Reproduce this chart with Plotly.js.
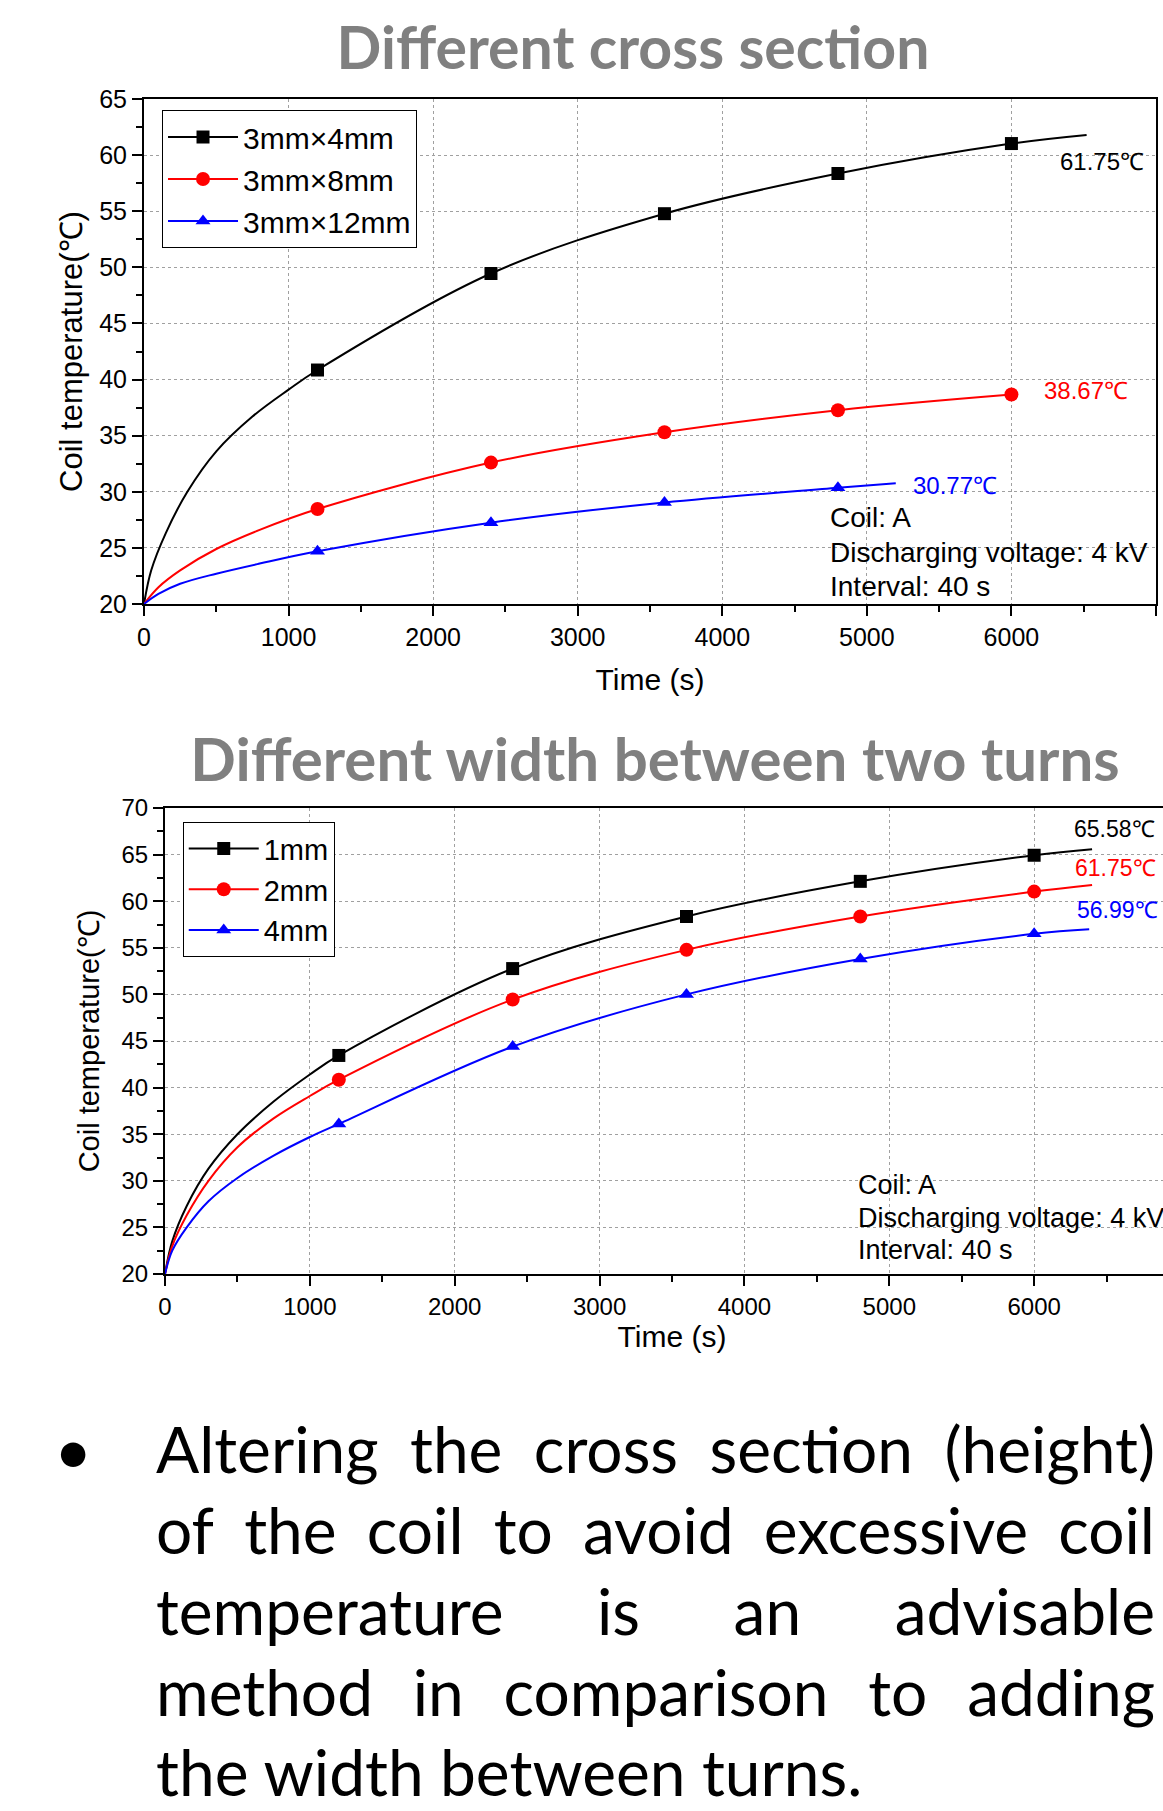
<!DOCTYPE html>
<html>
<head>
<meta charset="utf-8">
<script src="https://cdn.plot.ly/plotly-3.0.1.min.js"></script>
<style>
  html, body { margin:0; padding:0; background:#fff; width:1163px; height:1811px; overflow:hidden; position:relative; }
  #chart1 { position:absolute; left:0; top:0; width:1163px; height:700px; }
  #chart2 { position:absolute; left:0; top:700px; width:1200px; height:700px; }
  #bullet { position:absolute; left:54px; top:1407.7px; font-family:Lato, "Open Sans", sans-serif; font-size:66px; line-height:81px; color:#000; }
  #note { position:absolute; left:156px; top:1407.7px; width:999px; font-family:Lato, "Open Sans", sans-serif; font-size:64px; line-height:81px; color:#000; }
  #note .j { display:flex; justify-content:space-between; white-space:nowrap; }
  #note .l { white-space:nowrap; line-height:52px; padding-top:14.5px; }
</style>
</head>
<body>
<div id="chart1"></div>
<div id="chart2"></div>
<div id="bullet">•</div>
<div id="note"></div>
<script>
// ---------------- DATA ----------------
// Chart 1: different cross section (time in s, temperature in °C)
const crossNames = ['3mm×4mm', '3mm×8mm', '3mm×12mm'];
const cs4Time  = [0, 50, 150, 300, 500, 750, 1000, 1200, 2400, 3600, 4800, 6000, 6520];
const cs4Temp  = [20, 23.0, 26.3, 30.0, 33.6, 36.7, 39.1, 40.85, 49.45, 54.78, 58.36, 61.03, 61.8];
const cs4MarkTime = [1200, 2400, 3600, 4800, 6000];
const cs4MarkTemp = [40.85, 49.45, 54.78, 58.36, 61.03];
const cs8Time  = [0, 100, 250, 500, 800, 1200, 2400, 3600, 4800, 6000];
const cs8Temp  = [20, 21.5, 23.0, 24.9, 26.6, 28.46, 32.6, 35.3, 37.27, 38.67];
const cs8MarkTime = [1200, 2400, 3600, 4800, 6000];
const cs8MarkTemp = [28.46, 32.6, 35.3, 37.27, 38.67];
const cs12Time = [0, 100, 250, 500, 800, 1200, 2400, 3600, 4800, 5200];
const cs12Temp = [20, 20.9, 21.8, 22.7, 23.6, 24.7, 27.25, 29.05, 30.35, 30.77];
const cs12MarkTime = [1200, 2400, 3600, 4800];
const cs12MarkTemp = [24.7, 27.25, 29.05, 30.35];
const crossEndLabels = ['61.75℃', '38.67℃', '30.77℃'];

// Chart 2: different width between two turns
const widthNames = ['1mm', '2mm', '4mm'];
const w1Time = [0, 50, 150, 300, 500, 750, 1000, 1200, 2400, 3600, 4800, 6000, 6400];
const w1Temp = [20, 23.5, 27.3, 31.3, 35.0, 38.5, 41.4, 43.45, 52.77, 58.36, 62.13, 64.93, 65.58];
const w2Time = [0, 50, 150, 300, 500, 750, 1000, 1200, 2400, 3600, 4800, 6000, 6400];
const w2Temp = [20, 23.0, 26.3, 30.0, 33.6, 36.7, 39.1, 40.85, 49.45, 54.78, 58.36, 61.03, 61.75];
const w4Time = [0, 50, 150, 300, 500, 750, 1000, 1200, 2400, 3600, 4800, 6000, 6380];
const w4Temp = [20, 22.5, 25.0, 27.8, 30.3, 32.7, 34.7, 36.1, 44.4, 50.0, 53.8, 56.5, 56.99];
const wMarkTime = [1200, 2400, 3600, 4800, 6000];
const w1MarkTemp = [43.45, 52.77, 58.36, 62.13, 64.93];
const w2MarkTemp = [40.85, 49.45, 54.78, 58.36, 61.03];
const w4MarkTemp = [36.1, 44.4, 50.0, 53.8, 56.5];
const widthEndLabels = ['65.58℃', '61.75℃', '56.99℃'];

const conditionLines = ['Coil: A', 'Discharging voltage: 4 kV', 'Interval: 40 s'];
const noteLines = [
  'Altering the cross section (height)',
  'of the coil to avoid excessive coil',
  'temperature is an advisable',
  'method in comparison to adding',
  'the width between turns.'
];

// ---------------- STYLE ----------------
const colors = ['#000000', '#ff0000', '#0000ff'];
const symbols = ['square', 'circle', 'triangle-up'];
const msize = [13, 14, 13];
const ARIAL = '"Liberation Sans", Arial, sans-serif';

function seriesTraces(names, curves, marks) {
  const out = [];
  names.forEach((n, i) => {
    out.push({ x: curves[i][0], y: curves[i][1], mode: 'lines', type: 'scatter',
      line: { color: colors[i], width: 2, shape: 'spline', smoothing: 1 },
      showlegend: false, hoverinfo: 'skip' });
    out.push({ x: marks[i][0], y: marks[i][1], mode: 'markers', type: 'scatter',
      marker: { color: colors[i], symbol: symbols[i], size: msize[i] },
      showlegend: false });
  });
  names.forEach((n, i) => {
    out.push({ x: [null], y: [null], name: n, mode: 'lines+markers', type: 'scatter',
      line: { color: colors[i], width: 2 },
      marker: { color: colors[i], symbol: symbols[i], size: msize[i] } });
  });
  return out;
}

function axisX(tickSize, standoff) {
  return {
    range: [0, 7000], dtick: 1000, tick0: 0, ticks: 'outside', ticklen: 10, tickwidth: 2, tickcolor: '#000',
    showline: true, linewidth: 2, linecolor: '#000', mirror: true, zeroline: false,
    showgrid: true, gridcolor: '#a0a0a0', gridwidth: 1, griddash: '3px,3px',
    minor: { dtick: 500, ticks: 'outside', ticklen: 6, tickwidth: 2, tickcolor: '#000', showgrid: false },
    tickfont: { family: ARIAL, size: tickSize, color: '#000' },
    title: { text: 'Time (s)', font: { family: ARIAL, size: 30, color: '#000' }, standoff: standoff },
    fixedrange: true
  };
}
function axisY(range, tickSize, titleSize, standoff) {
  return {
    range: range, dtick: 5, tick0: 0, ticks: 'outside', ticklen: 10, tickwidth: 2, tickcolor: '#000',
    showline: true, linewidth: 2, linecolor: '#000', mirror: true, zeroline: false,
    showgrid: true, gridcolor: '#a0a0a0', gridwidth: 1, griddash: '3px,3px',
    minor: { dtick: 2.5, ticks: 'outside', ticklen: 6, tickwidth: 2, tickcolor: '#000', showgrid: false },
    tickfont: { family: ARIAL, size: tickSize, color: '#000' },
    title: { text: 'Coil temperature(℃)', font: { family: ARIAL, size: titleSize, color: '#000' }, standoff: standoff },
    fixedrange: true
  };
}

// ---------------- CHART 1 ----------------
const traces1 = seriesTraces(crossNames,
  [[cs4Time, cs4Temp], [cs8Time, cs8Temp], [cs12Time, cs12Temp]],
  [[cs4MarkTime, cs4MarkTemp], [cs8MarkTime, cs8MarkTemp], [cs12MarkTime, cs12MarkTemp]]);

const endPos1 = [[6322, 59.4], [6211, 39.03], [5305, 30.6]];
const condPos1 = [[4731, 27.75], [4731, 24.63], [4731, 21.6]];
const ann1 = [];
crossEndLabels.forEach((t, i) => ann1.push({ x: endPos1[i][0], y: endPos1[i][1], xref: 'x', yref: 'y', text: t,
  showarrow: false, xanchor: 'left', yanchor: 'middle', font: { family: ARIAL, size: 24, color: colors[i] } }));
conditionLines.forEach((t, i) => ann1.push({ x: condPos1[i][0], y: condPos1[i][1], xref: 'x', yref: 'y', text: t,
  showarrow: false, xanchor: 'left', yanchor: 'middle', font: { family: ARIAL, size: 28, color: '#000' } }));

const layout1 = {
  width: 1163, height: 700,
  margin: { l: 144, r: 7, t: 99, b: 96, pad: 0 },
  paper_bgcolor: '#fff', plot_bgcolor: '#fff',
  title: { text: 'Different cross section', xref: 'container', yref: 'container', x: 633 / 1163, y: 1 - 48 / 700,
    xanchor: 'center', yanchor: 'middle', font: { family: 'Lato, "Open Sans", sans-serif', size: 59, color: '#808080', weight: 'bold' } },
  xaxis: axisX(25, 19),
  yaxis: axisY([20, 65], 25, 31, 7),
  showlegend: true,
  legend: { x: 0.0178, y: 0.9782, xanchor: 'left', yanchor: 'top', bgcolor: '#fff', bordercolor: '#000', borderwidth: 1,
    font: { family: ARIAL, size: 30, color: '#000' }, tracegroupgap: 0, itemwidth: 70 },
  annotations: ann1
};

// ---------------- CHART 2 ----------------
const traces2 = seriesTraces(widthNames,
  [[w1Time, w1Temp], [w2Time, w2Temp], [w4Time, w4Temp]],
  [[wMarkTime, w1MarkTemp], [wMarkTime, w2MarkTemp], [wMarkTime, w4MarkTemp]]);

const endPos2 = [[6260, 67.72], [6267, 63.6], [6284, 59.03]];
const condPos2 = [[4771, 29.6], [4771, 26.06], [4771, 22.57]];
const ann2 = [];
widthEndLabels.forEach((t, i) => ann2.push({ x: endPos2[i][0], y: endPos2[i][1], xref: 'x', yref: 'y', text: t,
  showarrow: false, xanchor: 'left', yanchor: 'middle', font: { family: ARIAL, size: 23, color: colors[i] } }));
conditionLines.forEach((t, i) => ann2.push({ x: condPos2[i][0], y: condPos2[i][1], xref: 'x', yref: 'y', text: t,
  showarrow: false, xanchor: 'left', yanchor: 'middle', font: { family: ARIAL, size: 27, color: '#000' } }));

const layout2 = {
  width: 1200, height: 700,
  margin: { l: 165, r: 21, t: 108, b: 126, pad: 0 },
  paper_bgcolor: '#fff', plot_bgcolor: '#fff',
  title: { text: 'Different width between two turns', xref: 'container', yref: 'container', x: 655 / 1200, y: 1 - 59.5 / 700,
    xanchor: 'center', yanchor: 'middle', font: { family: 'Lato, "Open Sans", sans-serif', size: 60, color: '#808080', weight: 'bold' } },
  xaxis: axisX(24, 7),
  yaxis: axisY([20, 70], 24, 29, 13),
  showlegend: true,
  legend: { x: 0.0175, y: 0.9695, xanchor: 'left', yanchor: 'top', bgcolor: '#fff', bordercolor: '#000', borderwidth: 1,
    font: { family: ARIAL, size: 29, color: '#000' }, tracegroupgap: 0, itemwidth: 70 },
  annotations: ann2
};

const cfg = { staticPlot: true, displayModeBar: false };
Plotly.newPlot('chart1', traces1, layout1, cfg);
Plotly.newPlot('chart2', traces2, layout2, cfg);

// ---------------- NOTE TEXT ----------------
const note = document.getElementById('note');
noteLines.forEach((line, i) => {
  const d = document.createElement('div');
  if (i < noteLines.length - 1) {
    d.className = 'j';
    line.split(' ').forEach(w => { const s = document.createElement('span'); s.textContent = w; d.appendChild(s); });
  } else {
    d.className = 'l';
    d.textContent = line;
  }
  note.appendChild(d);
});
</script>
</body>
</html>
